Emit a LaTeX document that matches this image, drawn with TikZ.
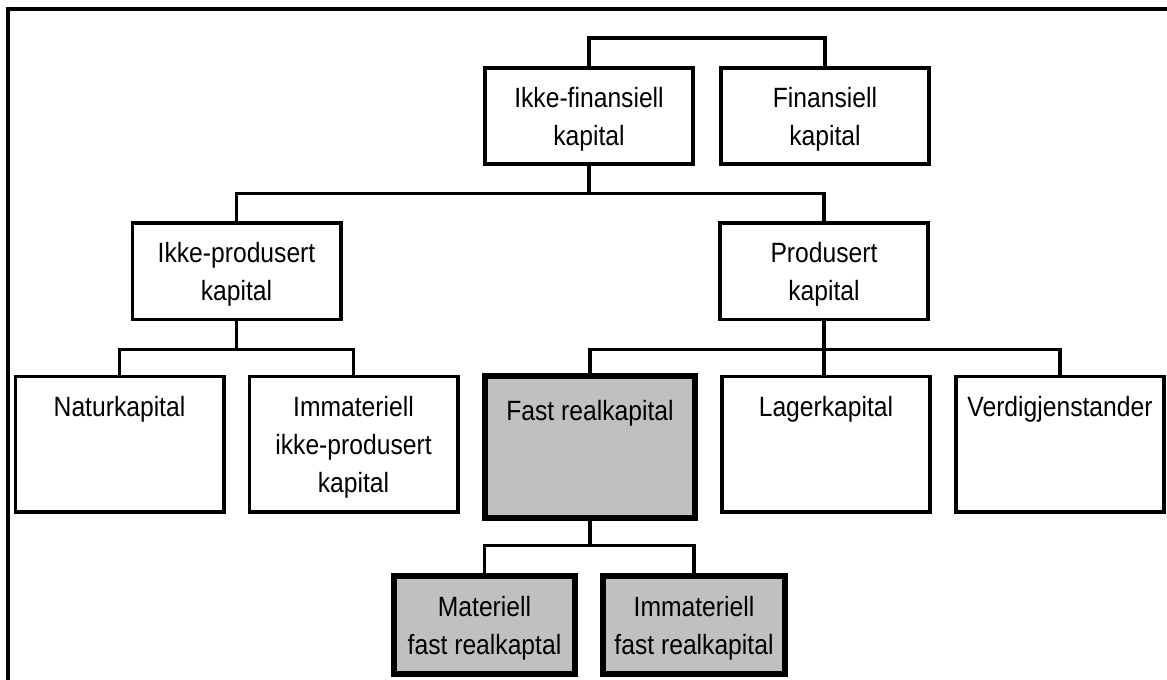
\documentclass[tikz,border=0pt]{standalone}
\usepackage{fontspec}
\setmainfont{Liberation Sans}
\usepackage{graphicx}
\usetikzlibrary{positioning}

\definecolor{boxgray}{HTML}{C0C0C0}
\newcommand{\boxtext}[1]{\scalebox{1}[1.13]{\fontsize{18.5}{25.2}\selectfont\begin{tabular}{@{}c@{}}#1\end{tabular}}}

\begin{document}
\begin{tikzpicture}[x=0.75pt, y=-0.75pt,
        box/.style = {draw, line width=2.7pt, fill=white, inner sep=0pt, minimum width=156.3pt},
        topbox/.style = {box, minimum height=72.3pt},
        leafbox/.style = {box, minimum height=101.7pt},
        keybox/.style = {box, line width=4.6pt, fill=boxgray},
        txt/.style = {inner sep=0pt},
        conn/.style = {line width=2.4pt}]
    \useasboundingbox (0,0) rectangle (1167,680);
    \draw[line width=2.4pt] (8,9) rectangle (1190,700);

    % boxes
    \node[topbox] (ikkefin) at (589,116) {};
    \node[topbox] (fin) at (825,116) {};
    \node[topbox] (ikkeprod) at (236.5,271.5) {};
    \node[topbox] (prod) at (824,271.5) {};
    \node[leafbox] (natur) at (119.5,444.5) {};
    \node[leafbox] (immikke) at (353.5,444.5) {};
    \node[keybox, minimum width=158pt, minimum height=106.2pt] (fastreal) at (590,447) {};
    \node[leafbox] (lager) at (826,444.5) {};
    \node[leafbox] (verdi) at (1060,444.5) {};
    \node[keybox, minimum width=135.5pt, minimum height=74pt] (materiell) at (484.5,625) {};
    \node[keybox, minimum width=136pt, minimum height=74pt] (immfast) at (694,625) {};

    % texts
    \node[txt, below=10.8pt of ikkefin.north] (t-ikkefin) {\boxtext{Ikke-finansiell\\kapital}};
    \node[txt, below=10.8pt of fin.north] (t-fin) {\boxtext{Finansiell\\kapital}};
    \node[txt, below=10.8pt of ikkeprod.north] (t-ikkeprod) {\boxtext{Ikke-produsert\\kapital}};
    \node[txt, below=10.8pt of prod.north] (t-prod) {\boxtext{Produsert\\kapital}};
    \node[txt, below=10.8pt of natur.north] (t-natur) {\boxtext{Naturkapital}};
    \node[txt, below=10.8pt of immikke.north] (t-immikke) {\boxtext{Immateriell\\ikke-produsert\\kapital}};
    \node[txt, below=15.3pt of fastreal.north] (t-fastreal) {\boxtext{Fast realkapital}};
    \node[txt, below=10.8pt of lager.north] (t-lager) {\boxtext{Lagerkapital}};
    \node[txt, below=10.8pt of verdi.north] (t-verdi) {\boxtext{Verdigjenstander}};
    \node[txt, below=13pt of materiell.north] (t-materiell) {\boxtext{Materiell\\fast realkaptal}};
    \node[txt, below=13pt of immfast.north] (t-immfast) {\boxtext{Immateriell\\fast realkapital}};

    % connectors
    \draw[conn] (ikkefin.north) -- ++(0,-28) -| (fin.north);
    \draw[conn] (ikkeprod.north) -- ++(0,-28) coordinate (bar1) -| (prod.north);
    \draw[conn] (ikkefin.south) -- (ikkefin.south |- bar1);
    \draw[conn] (natur.north) -- ++(0,-25) coordinate (bar2) -| (immikke.north);
    \draw[conn] (ikkeprod.south) -- (ikkeprod.south |- bar2);
    \draw[conn] (fastreal.north) -- (fastreal.north |- bar2) -| (verdi.north);
    \draw[conn] (prod.south) -- (prod.south |- lager.north);
    \draw[conn] (materiell.north) -- ++(0,-27) coordinate (bar3) -| (immfast.north);
    \draw[conn] (fastreal.south) -- (fastreal.south |- bar3);
\end{tikzpicture}
\end{document}
